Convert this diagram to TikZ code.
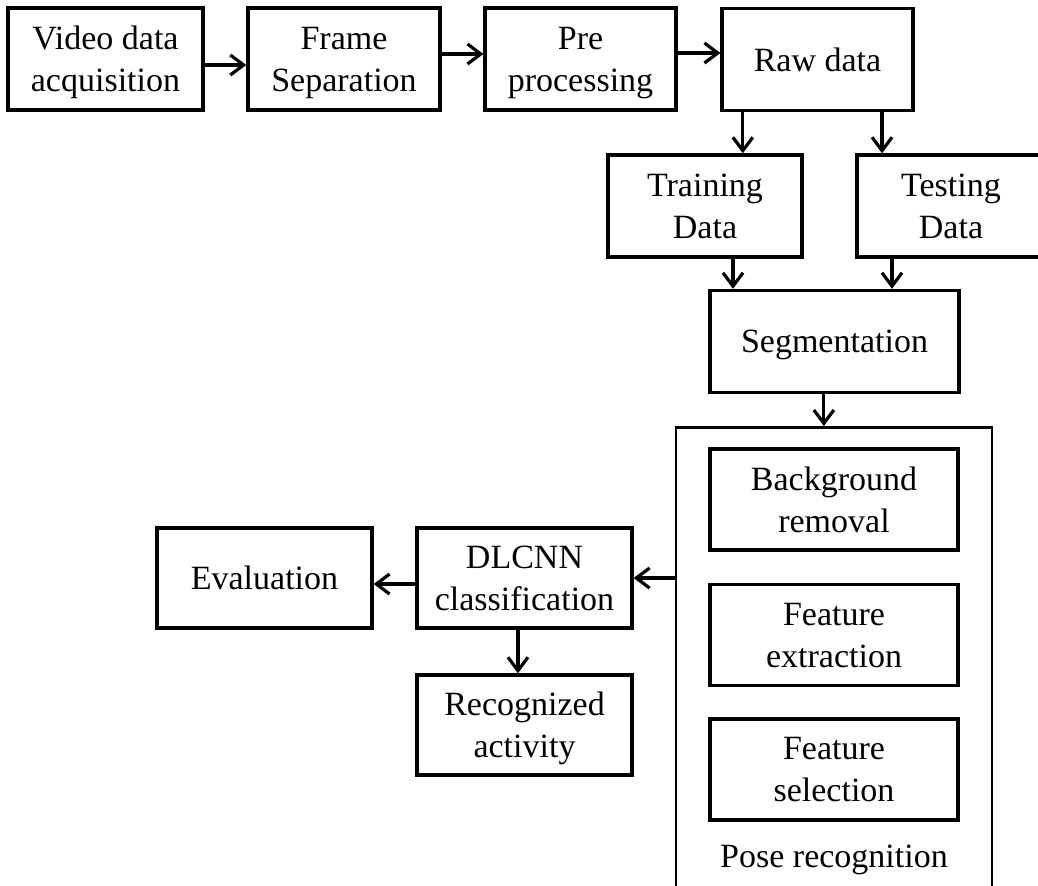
\documentclass[tikz,border=0pt]{standalone}
\usepackage{fontspec}
\setmainfont{Liberation Serif}
\usetikzlibrary{arrows.meta}

\tikzset{every picture/.style={line width=2.6pt}}
\tikzset{
  blk/.style={draw, line width=2.6pt, align=center, inner sep=0pt, text depth=0pt},
  arr/.style={line width=2.4pt, -{Straight Barb[length=10pt,width=15pt,line width=2.4pt]}},
}

\begin{document}
\begin{tikzpicture}[x=0.75pt,y=0.75pt,yscale=-1,xscale=1,font=\fontsize{25.5}{31.5}\selectfont]
\useasboundingbox (0,0) rectangle (1038,885);
\clip (0,0) rectangle (1038,885);

%Shape: Rectangle [top row]
\node [blk, minimum width=146pt, minimum height=76.5pt] (vid) at (105.5,59) {Video data\\acquisition};
\node [blk, minimum width=144pt, minimum height=76.5pt] (frm) at (344,59) {Frame\\Separation};
\node [blk, minimum width=143pt, minimum height=76.5pt] (pre) at (580.5,59) {Pre\\processing};
\node [blk, minimum width=143pt, minimum height=76.5pt] (raw) at (817.5,59.5) {Raw data};

%Shape: Rectangle [data split]
\node [blk, minimum width=145.5pt, minimum height=76.5pt] (trn) at (705,206) {Training\\Data};
\node [blk, minimum width=141pt, minimum height=76.5pt] (tst) at (951,206) {Testing\\Data};
\node [blk, minimum width=187pt, minimum height=76.5pt] (seg) at (834.5,341.5) {Segmentation};

%Shape: Rectangle [pose recognition]
\node [draw, line width=1.9pt, inner sep=0pt, minimum width=237pt, minimum height=360pt, anchor=north] (pose) at (834,426) {};
\node [blk, minimum width=186pt, minimum height=76pt] (bgr) at (834,499.5) {Background\\removal};
\node [blk, minimum width=186pt, minimum height=76pt] (fex) at (834,635) {Feature\\extraction};
\node [blk, minimum width=186pt, minimum height=76pt] (fsel) at (834,769.5) {Feature\\selection};
% Text Node
\node [inner sep=0pt] (poselbl) at (834,860) {Pose recognition};

%Shape: Rectangle [classification]
\node [blk, minimum width=161pt, minimum height=75pt] (dl) at (524.5,578) {DLCNN\\classification};
\node [blk, minimum width=161pt, minimum height=75pt] (eva) at (264.5,578) {Evaluation};
\node [blk, minimum width=161pt, minimum height=75pt] (rec) at (524.5,725) {Recognized\\activity};

%Straight Lines [arrows]
\draw [arr] ([yshift=4.5pt]vid.east) -- ([yshift=4.5pt]vid.east -| frm.west);
\draw [arr] ([yshift=-3.75pt]frm.east) -- ([yshift=-3.75pt]frm.east -| pre.west);
\draw [arr] ([yshift=-4.5pt]pre.east) -- ([yshift=-4.5pt]pre.east -| raw.west);
\draw [arr] ([xshift=-56pt]raw.south) -- ([xshift=-56pt]raw.south |- trn.north);
\draw [arr] ([xshift=48.4pt]raw.south) -- ([xshift=48.4pt]raw.south |- tst.north);
\draw [arr] ([xshift=21pt]trn.south) -- ([xshift=21pt]trn.south |- seg.north);
\draw [arr] ([xshift=-44.25pt]tst.south) -- ([xshift=-44.25pt]tst.south |- seg.north);
\draw [arr] ([xshift=-8pt]seg.south) -- ([xshift=-8pt]seg.south |- pose.north);
\draw [arr] (dl.east -| pose.west) -- (dl.east);
\draw [arr] ([yshift=4.5pt]dl.west) -- ([yshift=4.5pt]dl.west -| eva.east);
\draw [arr] ([xshift=-4.9pt]dl.south) -- ([xshift=-4.9pt]dl.south |- rec.north);

\end{tikzpicture}
\end{document}
